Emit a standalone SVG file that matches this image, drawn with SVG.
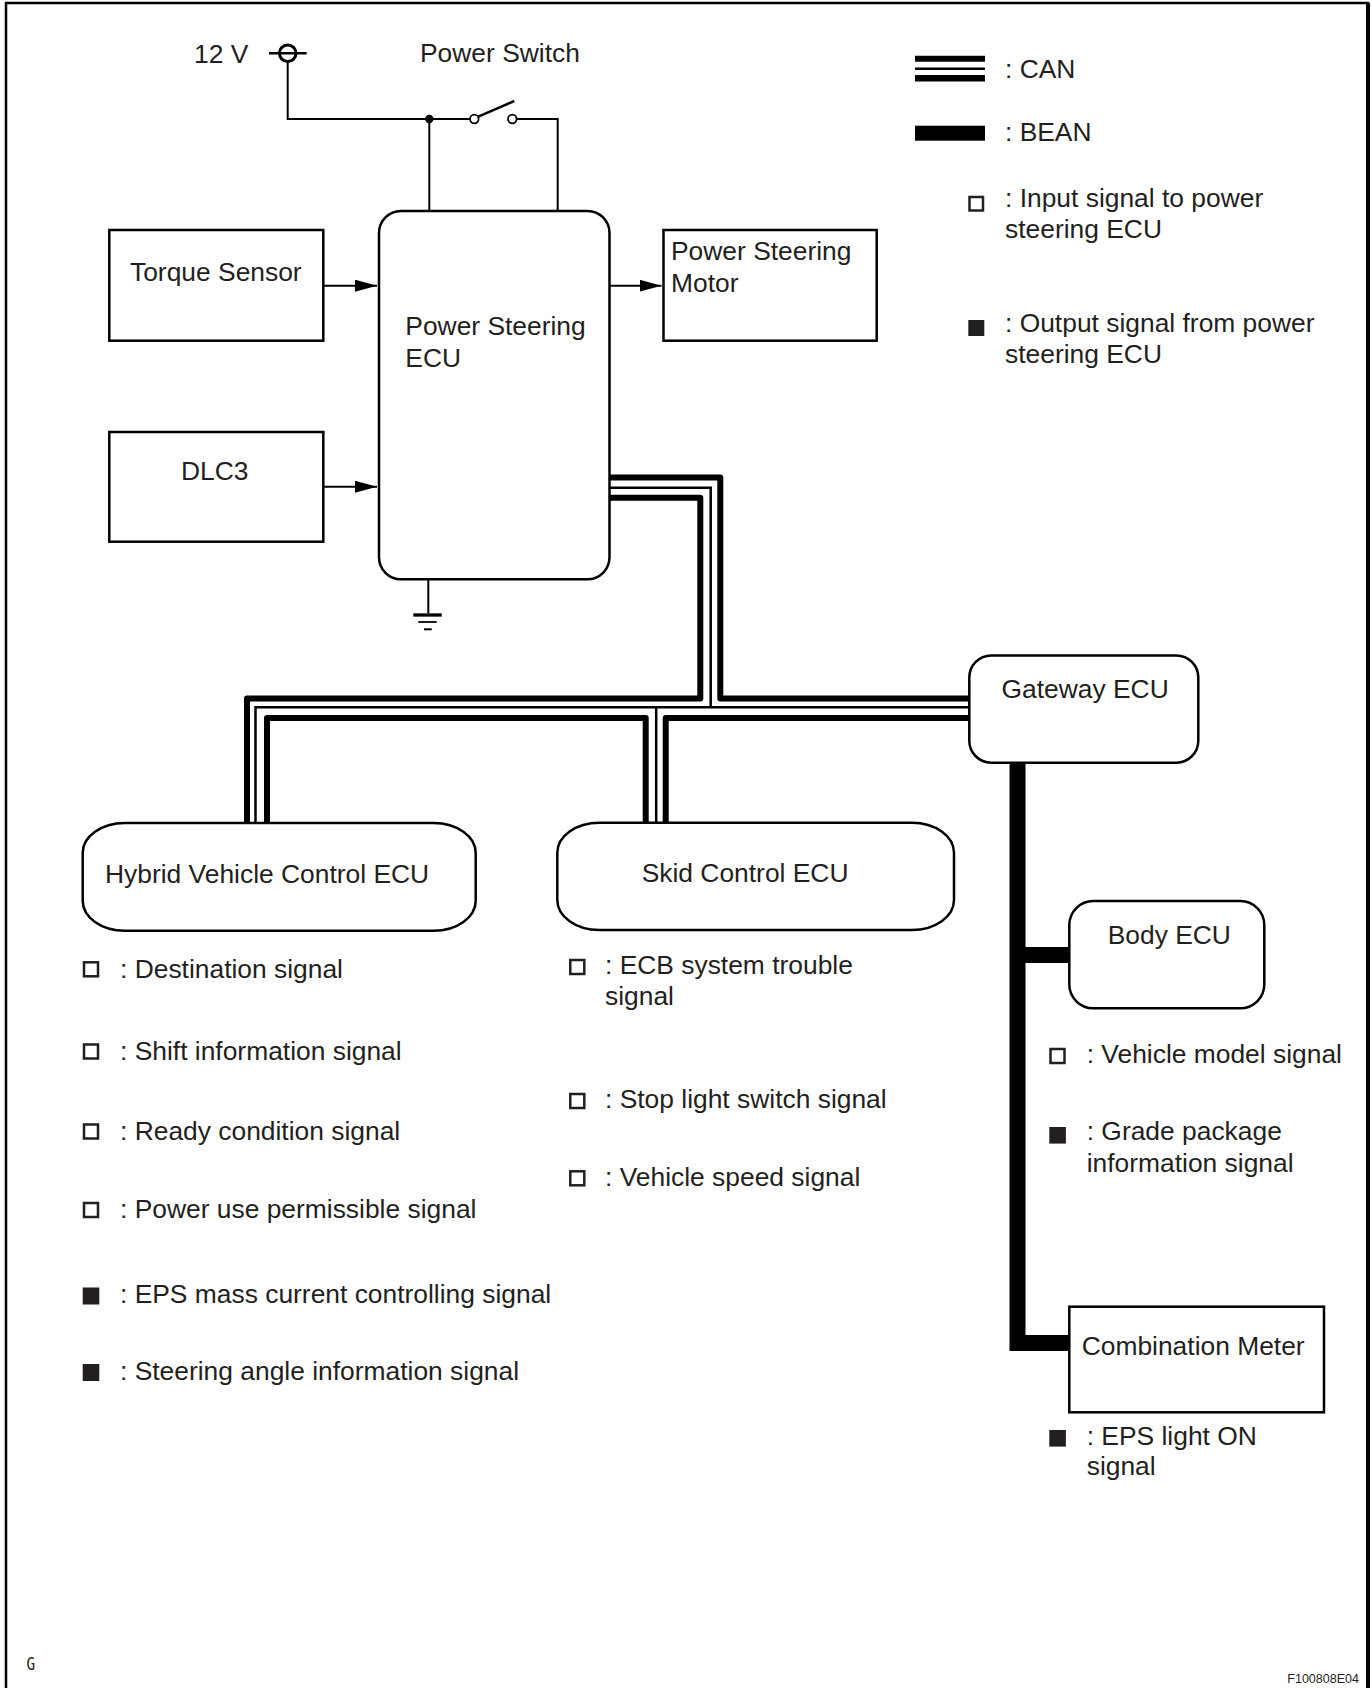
<svg xmlns="http://www.w3.org/2000/svg" width="1372" height="1688" viewBox="0 0 1372 1688">
<defs>
<style>
text{font-family:"Liberation Sans",Arial,sans-serif;font-size:26.4px;fill:#231f20}
.box{fill:#fff;stroke:#000;stroke-width:2.5}
.wire{fill:none;stroke:#000;stroke-width:2}
.can{fill:none;stroke:#000;stroke-width:6;stroke-linejoin:round}
.canthin{fill:none;stroke:#000;stroke-width:2.5}
.bean{fill:none;stroke:#000;stroke-width:16;stroke-linejoin:miter}
.sqo{fill:#fff;stroke:#231f20;stroke-width:2.5}
.sqf{fill:#231f20}
</style>
<marker id="arr" markerUnits="userSpaceOnUse" markerWidth="22" markerHeight="12" refX="22" refY="6" orient="auto">
<path d="M0,0 L22,6 L0,12 z" fill="#000"/>
</marker>
</defs>
<rect width="1372" height="1688" fill="#fff"/>
<path d="M6,1700 V3 H1368 V1700" fill="none" stroke="#000" stroke-width="2.5"/>
<line x1="1368" y1="3" x2="1368" y2="1700" stroke="#000" stroke-width="4"/>

<g id="connectors">
<!-- power supply -->
<path class="wire" d="M287.7,62 V119 H470"/>
<path class="wire" d="M516.3,119 H557.7 V211"/>
<path class="wire" d="M429.3,119 V211"/>
<line x1="478.3" y1="116.7" x2="514.3" y2="101" stroke="#000" stroke-width="2.5"/>
<!-- ground -->
<path class="wire" d="M428.3,579 V613.3"/>
<line x1="413.3" y1="615" x2="441.7" y2="615" stroke="#000" stroke-width="3.3"/>
<line x1="418.3" y1="622" x2="436.7" y2="622" stroke="#000" stroke-width="1.8"/>
<line x1="424" y1="629.3" x2="431.7" y2="629.3" stroke="#000" stroke-width="2"/>
<!-- arrows -->
<line x1="323.5" y1="285.7" x2="377" y2="285.7" stroke="#000" stroke-width="2" marker-end="url(#arr)"/>
<line x1="323.5" y1="486.8" x2="377" y2="486.8" stroke="#000" stroke-width="2" marker-end="url(#arr)"/>
<line x1="609.5" y1="285.7" x2="661.5" y2="285.7" stroke="#000" stroke-width="2" marker-end="url(#arr)"/>
<!-- CAN bus -->
<path class="can" d="M609,477.5 H720.3 V698.5 H969"/>
<path class="canthin" d="M609,487.8 H710.7 V707.2"/>
<path class="canthin" d="M255.5,824 V707.2 H969"/>
<path class="canthin" d="M656.2,707.2 V824"/>
<path class="can" d="M609,497.7 H700.3 V698.5 H247 V824"/>
<path class="can" d="M267,824 V718 H645.7 V824"/>
<path class="can" d="M665.7,824 V718 H969"/>
<!-- BEAN -->
<path class="bean" d="M1017.5,763 V1343 H1069.5"/>
<path class="bean" d="M1017.5,955 H1069.5"/>
</g>

<g id="supply">
<circle cx="287.7" cy="53.3" r="8.3" fill="#fff" stroke="#000" stroke-width="3"/>
<line x1="269" y1="53.3" x2="306.7" y2="53.3" stroke="#000" stroke-width="2.5"/>
<text x="194" y="63.3">12 V</text>
</g>
<g id="power-switch">
<circle cx="429.3" cy="119" r="4.2" fill="#000"/>
<circle cx="474.3" cy="119" r="4.3" fill="#fff" stroke="#000" stroke-width="1.8"/>
<circle cx="512.3" cy="119" r="4.3" fill="#fff" stroke="#000" stroke-width="1.8"/>
<text x="420" y="61.7">Power Switch</text>
</g>

<g id="torque-sensor">
<rect class="box" x="109.3" y="230" width="214" height="110.7"/>
<text x="130" y="281">Torque Sensor</text>
</g>
<g id="dlc3">
<rect class="box" x="109.3" y="432" width="214" height="109.7"/>
<text x="181" y="480">DLC3</text>
</g>
<g id="ps-ecu">
<rect class="box" x="379" y="211" width="230.5" height="368.3" rx="22" ry="22"/>
<text x="405.3" y="335">Power Steering</text>
<text x="405.3" y="366.7">ECU</text>
</g>
<g id="ps-motor">
<rect class="box" x="663.5" y="230" width="213.2" height="110.7"/>
<text x="671" y="260">Power Steering</text>
<text x="671" y="291.7">Motor</text>
</g>
<g id="gateway-ecu">
<rect class="box" x="969.3" y="655.5" width="229" height="107.2" rx="22" ry="22"/>
<text x="1001.5" y="697.5">Gateway ECU</text>
</g>
<g id="hv-ecu">
<rect class="box" x="82.7" y="823" width="393" height="107.8" rx="42" ry="30"/>
<text x="105" y="882.5">Hybrid Vehicle Control ECU</text>
</g>
<g id="skid-ecu">
<rect class="box" x="557.3" y="822.7" width="396.7" height="107.3" rx="42" ry="30"/>
<text x="641.7" y="881.7">Skid Control ECU</text>
</g>
<g id="body-ecu">
<rect class="box" x="1069.3" y="901" width="195" height="107.3" rx="24" ry="24"/>
<text x="1107.7" y="944">Body ECU</text>
</g>
<g id="combination-meter">
<rect class="box" x="1069.3" y="1306.7" width="254.7" height="105.6"/>
<text x="1081.7" y="1355">Combination Meter</text>
</g>

<g id="legend">
<line x1="915" y1="58.7" x2="985" y2="58.7" stroke="#000" stroke-width="6"/>
<line x1="915" y1="68.7" x2="985" y2="68.7" stroke="#000" stroke-width="2.5"/>
<line x1="915" y1="78.3" x2="985" y2="78.3" stroke="#000" stroke-width="6.5"/>
<text x="1005" y="78.3">: CAN</text>
<rect x="915" y="125.7" width="70" height="15" fill="#000"/>
<text x="1005" y="140.7">: BEAN</text>
<rect class="sqo" x="969.5" y="197" width="13.5" height="13.5"/>
<text x="1005" y="206.7">: Input signal to power</text>
<text x="1005" y="238.3">steering ECU</text>
<rect class="sqf" x="968.3" y="320" width="16" height="16"/>
<text x="1005" y="331.7">: Output signal from power</text>
<text x="1005" y="363.3">steering ECU</text>
</g>

<g id="hv-signals">
<rect class="sqo" x="84" y="962.3" width="14" height="14"/>
<text x="120" y="978">: Destination signal</text>
<rect class="sqo" x="84" y="1044.5" width="14" height="14"/>
<text x="120" y="1059.8">: Shift information signal</text>
<rect class="sqo" x="84" y="1124.5" width="14" height="14"/>
<text x="120" y="1139.7">: Ready condition signal</text>
<rect class="sqo" x="84" y="1203" width="14" height="14"/>
<text x="120" y="1217.8">: Power use permissible signal</text>
<rect class="sqf" x="82.7" y="1287.5" width="16.6" height="17"/>
<text x="120" y="1303.3">: EPS mass current controlling signal</text>
<rect class="sqf" x="82.7" y="1364" width="16.6" height="17"/>
<text x="120" y="1379.5">: Steering angle information signal</text>
</g>

<g id="skid-signals">
<rect class="sqo" x="570.3" y="960" width="14" height="14"/>
<text x="605" y="974">: ECB system trouble</text>
<text x="605" y="1005">signal</text>
<rect class="sqo" x="570.3" y="1094" width="14" height="14"/>
<text x="605" y="1108.3">: Stop light switch signal</text>
<rect class="sqo" x="570.3" y="1171.3" width="14" height="14"/>
<text x="605" y="1186">: Vehicle speed signal</text>
</g>

<g id="body-signals">
<rect class="sqo" x="1050.5" y="1049" width="14" height="14"/>
<text x="1086.7" y="1062.7">: Vehicle model signal</text>
<rect class="sqf" x="1049.3" y="1127" width="16.6" height="16.6"/>
<text x="1086.7" y="1140">: Grade package</text>
<text x="1086.7" y="1171.7">information signal</text>
</g>

<g id="meter-signals">
<rect class="sqf" x="1049.3" y="1430" width="16.6" height="16.6"/>
<text x="1086.7" y="1445">: EPS light ON</text>
<text x="1086.7" y="1475">signal</text>
</g>

<text x="26.5" y="1670" style="font-family:'DejaVu Sans Mono',monospace;font-size:18px;transform-origin:26.5px 1670px;transform:scaleX(0.8)">G</text>
<text x="1287.3" y="1683.3" style="font-size:12.5px">F100808E04</text>
</svg>
